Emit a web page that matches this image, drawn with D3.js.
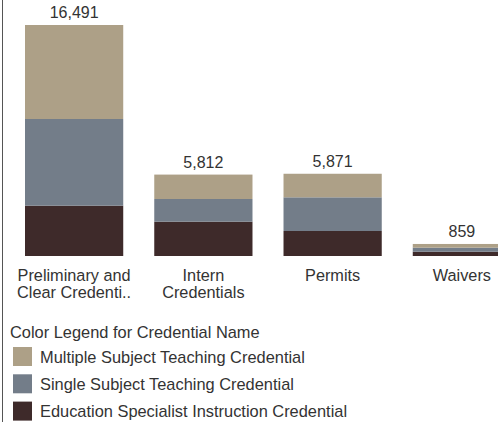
<!DOCTYPE html>
<html>
<head>
<meta charset="utf-8">
<script src="https://cdn.jsdelivr.net/npm/d3@7"></script>
<style>
  html, body { margin: 0; padding: 0; background: #fff; }
  svg { display: block; }
  text { font-family: "Liberation Sans", Arial, sans-serif; }
</style>
</head>
<body>
<svg id="chart" width="498" height="422"></svg>
<script>
const categories = ["Preliminary and Clear Credenti..", "Intern Credentials", "Permits", "Waivers"];
const categoryLines = [["Preliminary and", "Clear Credenti.."], ["Intern", "Credentials"], ["Permits"], ["Waivers"]];
const seriesNames = ["Education Specialist Instruction Credential", "Single Subject Teaching Credential", "Multiple Subject Teaching Credential"];
const educationSpecialist = [3590, 2450, 1785, 307];
const singleSubject = [6190, 1620, 2405, 286];
const multipleSubject = [6711, 1742, 1681, 266];
const seriesColors = ["#3e2a2a", "#737d89", "#ada087"];
const legendTitle = "Color Legend for Credential Name";
const legendOrder = [2, 1, 0];

const svg = d3.select("#chart");

const rows = categories.map((c, i) => ({
  category: c,
  [seriesNames[0]]: educationSpecialist[i],
  [seriesNames[1]]: singleSubject[i],
  [seriesNames[2]]: multipleSubject[i]
}));
const stacked = d3.stack().keys(seriesNames)(rows);
const totals = rows.map(r => seriesNames.reduce((s, k) => s + r[k], 0));

const x = d3.scaleBand().domain(categories).range([25, 511]).paddingInner(0.24).paddingOuter(0);
const y = d3.scaleLinear().domain([0, d3.max(totals)]).range([256, 25]);
const color = d3.scaleOrdinal().domain(seriesNames).range(seriesColors);

// left border
svg.append("line").attr("x1", 2.5).attr("x2", 2.5).attr("y1", 0).attr("y2", 422)
  .attr("stroke", "#555").attr("stroke-width", 1);

svg.append("g").selectAll("g").data(stacked).join("g")
  .attr("fill", d => color(d.key))
  .selectAll("rect").data(d => d).join("rect")
  .attr("x", d => x(d.data.category))
  .attr("width", x.bandwidth())
  .attr("y", d => y(d[1]))
  .attr("height", d => y(d[0]) - y(d[1]));

const fmt = d3.format(",");
svg.append("g").selectAll("text").data(categories).join("text")
  .attr("x", d => x(d) + x.bandwidth() / 2)
  .attr("y", (d, i) => y(totals[i]) - 7)
  .attr("text-anchor", "middle")
  .attr("font-size", 16)
  .attr("fill", "#333")
  .text((d, i) => fmt(totals[i]));

const labels = svg.append("g").selectAll("text").data(categories).join("text")
  .attr("x", d => x(d) + x.bandwidth() / 2)
  .attr("y", 280.5)
  .attr("text-anchor", "middle")
  .attr("font-size", 16.3)
  .attr("fill", "#333");
labels.selectAll("tspan").data((d, i) => categoryLines[i]).join("tspan")
  .attr("x", function() { return d3.select(this.parentNode).attr("x"); })
  .attr("dy", (d, j) => j === 0 ? 0 : 17.5)
  .text(d => d);

// legend
const legend = svg.append("g");
legend.append("text").attr("x", 10).attr("y", 338)
  .attr("font-size", 16.4).attr("fill", "#333").text(legendTitle);
const items = legend.selectAll("g.item").data(legendOrder.map(i => seriesNames[i])).join("g")
  .attr("class", "item")
  .attr("transform", (d, i) => `translate(0, ${i * 27.3})`);
items.append("rect").attr("x", 13).attr("y", 347).attr("width", 19).attr("height", 19)
  .attr("fill", d => color(d));
items.append("text").attr("x", 40).attr("y", 362.5)
  .attr("font-size", 16.4).attr("fill", "#333").text(d => d);
</script>
</body>
</html>
